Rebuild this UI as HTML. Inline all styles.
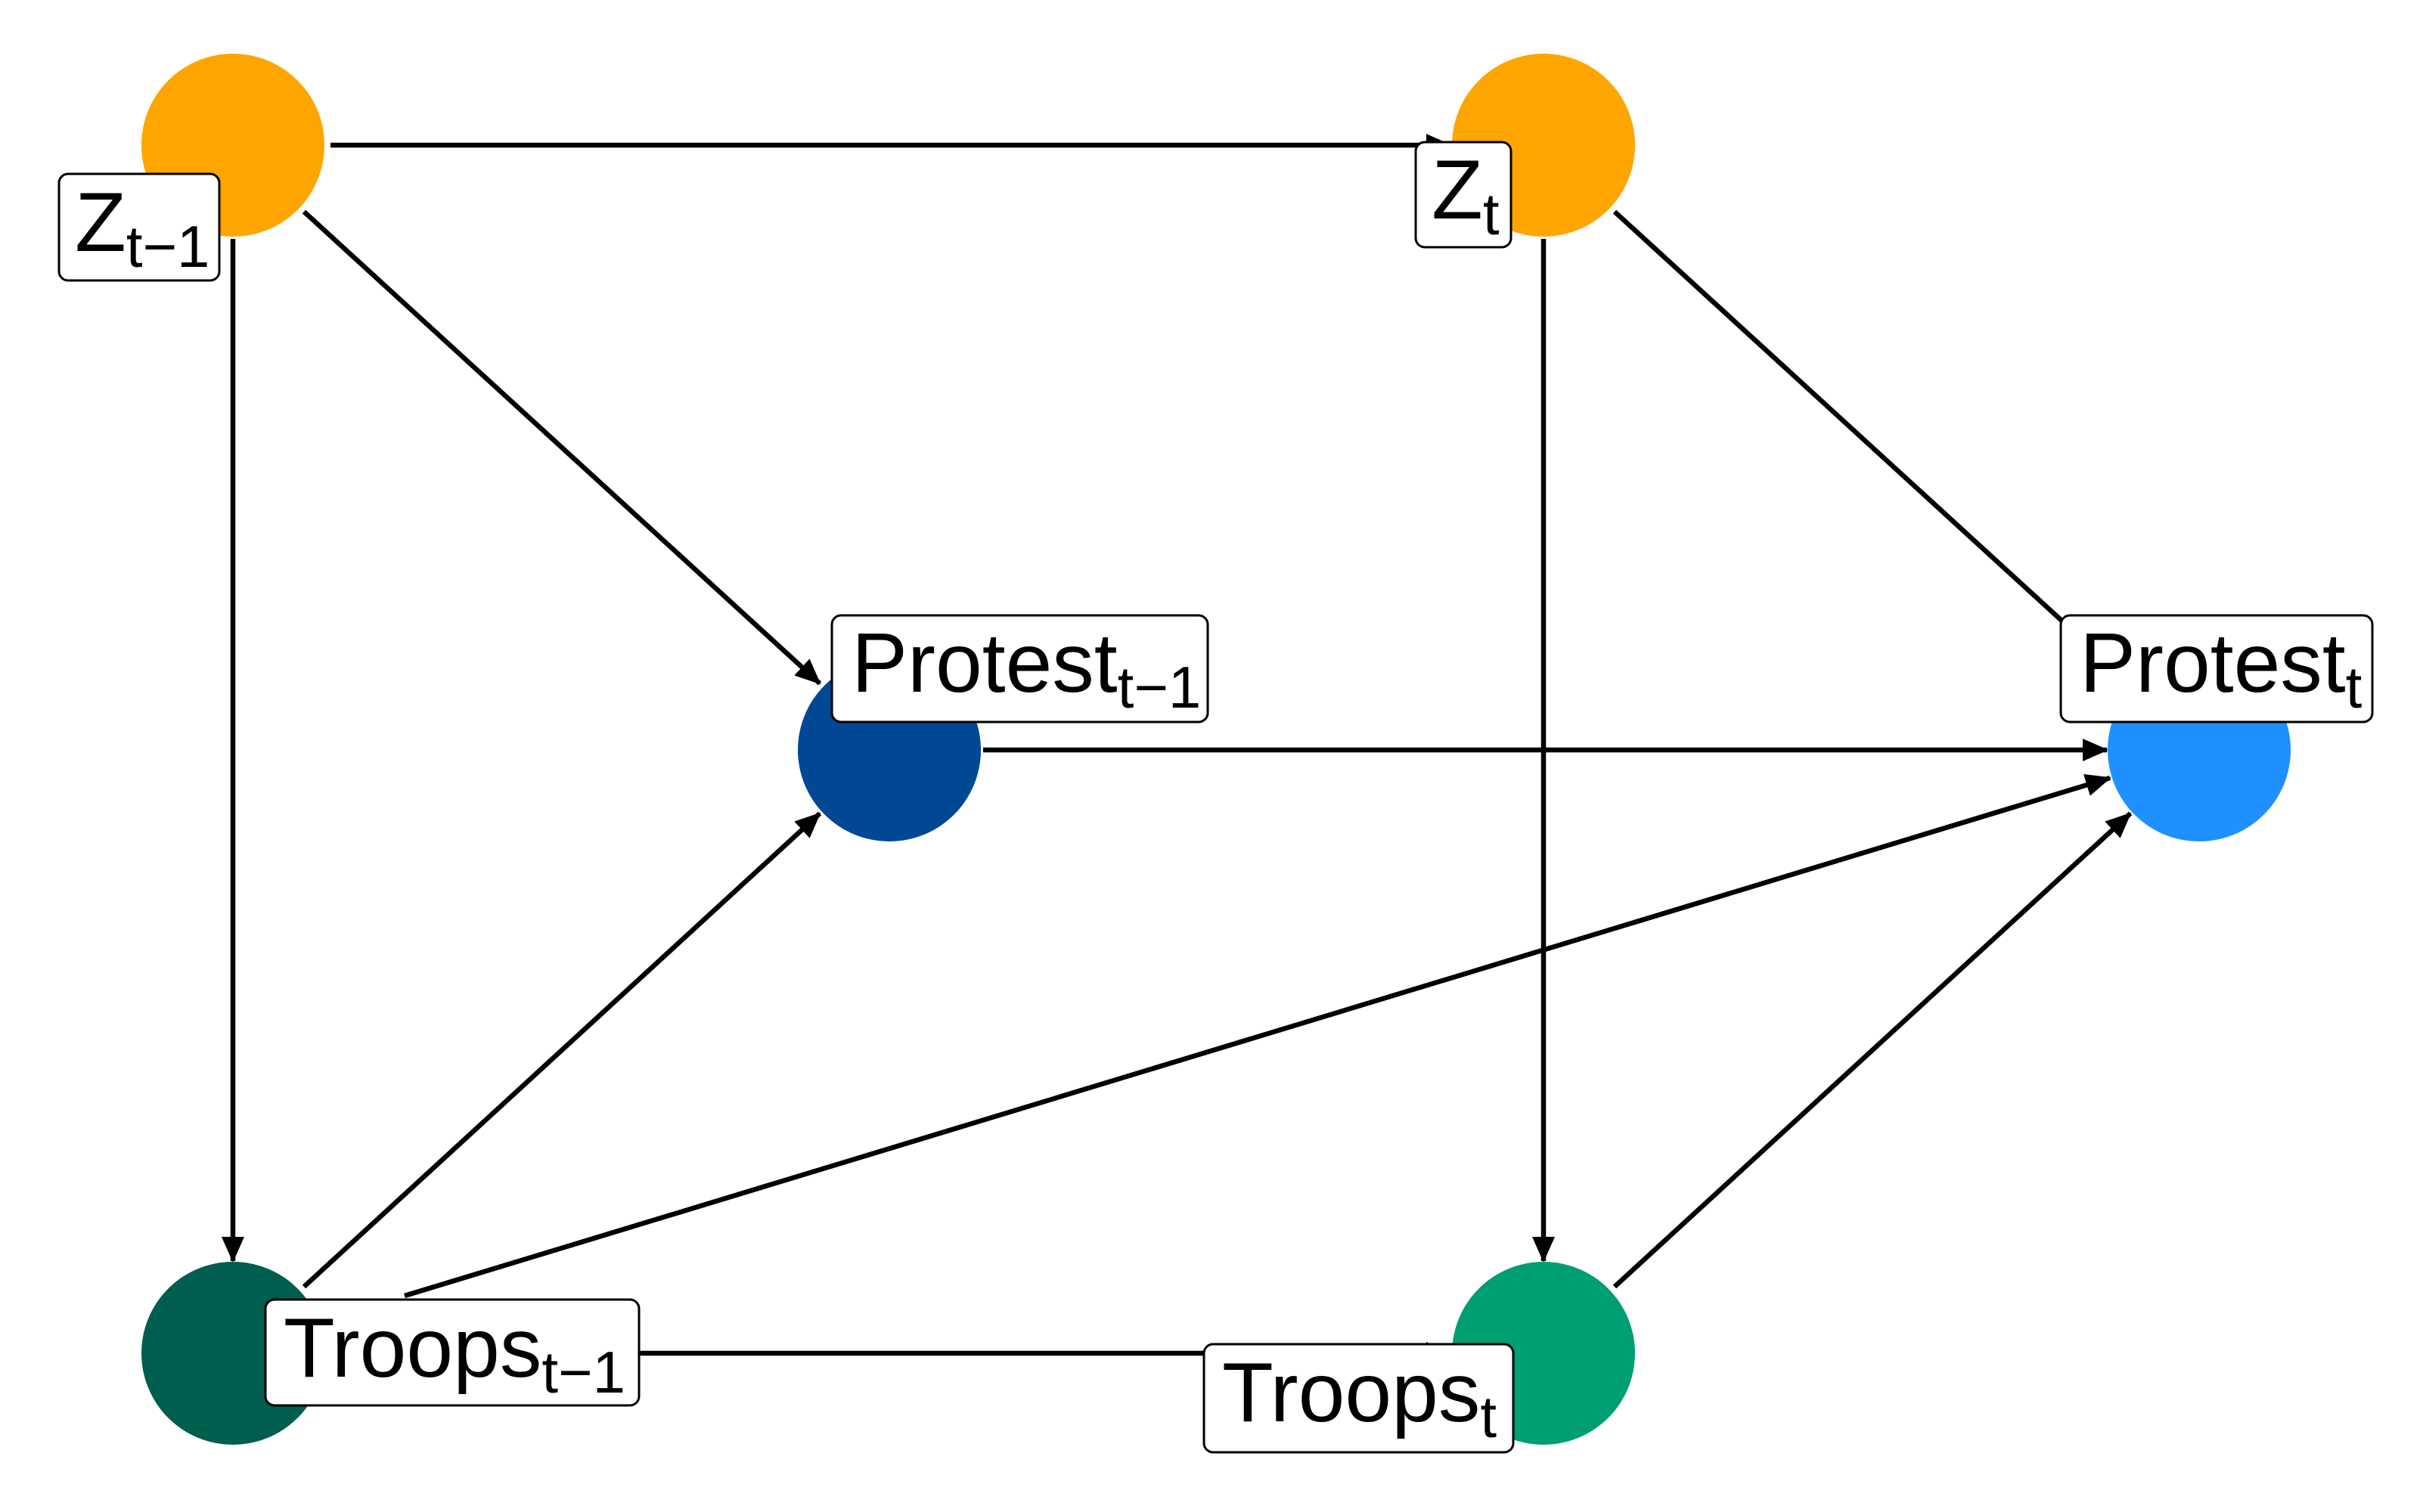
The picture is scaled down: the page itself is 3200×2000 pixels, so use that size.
<!DOCTYPE html>
<html><head><meta charset="utf-8"><style>
html,body{margin:0;padding:0;background:#fff;}
svg{display:block;}
text{font-family:"Liberation Sans",sans-serif;fill:#000;}
</style></head><body>
<svg width="3200" height="2000" viewBox="0 0 3200 2000" xmlns="http://www.w3.org/2000/svg">
<defs>
<marker id="a" markerUnits="userSpaceOnUse" markerWidth="34" markerHeight="30" refX="32" refY="15" orient="auto">
<path d="M0,0 L34,15 L0,30 Z" fill="#000"/>
</marker>
</defs>
<g fill="none" stroke="#000" stroke-width="6.5">
<line x1="437" y1="192" x2="1918" y2="192" marker-end="url(#a)"/>
<line x1="402" y1="280" x2="1084" y2="904" marker-end="url(#a)"/>
<line x1="308" y1="316" x2="308" y2="1668" marker-end="url(#a)"/>
<line x1="2041" y1="316" x2="2041" y2="1668" marker-end="url(#a)"/>
<line x1="2135" y1="280" x2="2817" y2="904" marker-end="url(#a)"/>
<line x1="1300" y1="992" x2="2786" y2="992" marker-end="url(#a)"/>
<line x1="402" y1="1702" x2="1084" y2="1076" marker-end="url(#a)"/>
<line x1="535" y1="1714" x2="2790" y2="1029" marker-end="url(#a)"/>
<line x1="437" y1="1790" x2="1918" y2="1790" marker-end="url(#a)"/>
<line x1="2135" y1="1702" x2="2817" y2="1076" marker-end="url(#a)"/>
</g>
<circle cx="308" cy="192" r="121" fill="#FFA500"/>
<circle cx="2041" cy="192" r="121" fill="#FFA500"/>
<circle cx="1176" cy="992" r="121" fill="#004794"/>
<circle cx="2908" cy="992" r="121" fill="#1E90FF"/>
<circle cx="308" cy="1790" r="121" fill="#005E4F"/>
<circle cx="2041" cy="1790" r="121" fill="#009E73"/>
<g fill="#fff" stroke="#000" stroke-width="3">
<rect x="78" y="230" width="212" height="141" rx="12"/>
<rect x="1872" y="188" width="126" height="139" rx="12"/>
<rect x="1100" y="814" width="497" height="141" rx="12"/>
<rect x="2725" y="814" width="412" height="141" rx="12"/>
<rect x="351" y="1719" width="494" height="140" rx="12"/>
<rect x="1592" y="1778" width="409" height="143" rx="12"/>
</g>
<g font-size="111">
<text x="99" y="332">Z<tspan font-size="78" dy="21">t−1</tspan></text>
<text x="1893" y="289">Z<tspan font-size="78" dy="21">t</tspan></text>
<text x="1126" y="915">Protest<tspan font-size="78" dy="21">t−1</tspan></text>
<text x="2750" y="915">Protest<tspan font-size="78" dy="21">t</tspan></text>
<text x="375" y="1821">Troops<tspan font-size="78" dy="21">t−1</tspan></text>
<text x="1616" y="1880">Troops<tspan font-size="78" dy="21">t</tspan></text>
</g>
</svg>
</body></html>
